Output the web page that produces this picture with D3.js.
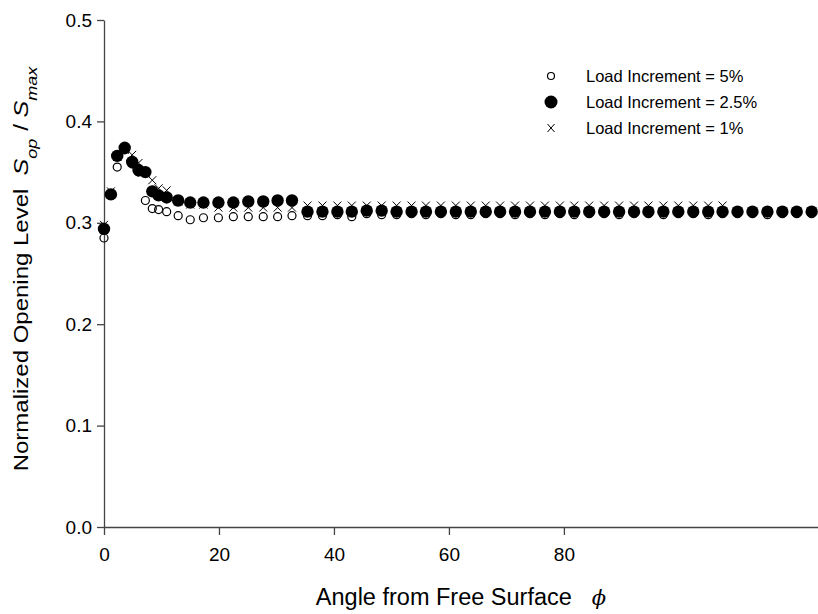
<!DOCTYPE html>
<html><head><meta charset="utf-8">
<script src="https://cdn.jsdelivr.net/npm/d3@7/dist/d3.min.js"></script>
<style>
html,body{margin:0;padding:0;background:#fff;}
text{font-family:Arial,"Liberation Sans",sans-serif;fill:#000;}
</style></head>
<body><svg id="c" width="818" height="614"></svg>
<script>
// Angle from free surface (degrees)
const angles = [0, 1.2, 2.3, 3.6, 4.9, 6.0, 7.2, 8.4, 9.5, 10.9, 12.9, 15.0, 17.3, 19.9, 22.5, 25.1, 27.7, 30.2, 32.7,
  35.4, 38.0, 40.6, 43.1, 45.7, 48.3, 50.9, 53.5, 56.0, 58.6, 61.2, 63.8, 66.4, 68.9, 71.5, 74.1, 76.7, 79.3, 81.8, 84.4,
  87.0, 89.6, 92.2, 94.7, 97.3, 99.9, 102.5, 105.1, 107.6, 110.2, 112.8, 115.4, 118.0, 120.5, 123.1];
// Load Increment = 5% (open circles)
const inc5 = [0.285, 0.327, 0.355, 0.372, 0.358, 0.350, 0.322, 0.314, 0.313, 0.311, 0.307, 0.303, 0.305, 0.305, 0.306, 0.306, 0.306, 0.306, 0.307,
  0.307, 0.307, 0.308, 0.306, 0.309, 0.308, 0.308, 0.309, 0.308, 0.309, 0.308, 0.308, 0.309, 0.309, 0.308, 0.309, 0.308, 0.309, 0.308, 0.309,
  0.309, 0.308, 0.309, 0.309, 0.308, 0.309, 0.309, 0.308, 0.309, 0.309, 0.309, 0.308, 0.309, 0.309, 0.309];
// Load Increment = 2.5% (filled circles)
const inc25 = [0.294, 0.328, 0.366, 0.374, 0.360, 0.352, 0.350, 0.331, 0.327, 0.325, 0.322, 0.320, 0.320, 0.320, 0.320, 0.321, 0.321, 0.322, 0.322,
  0.311, 0.311, 0.311, 0.311, 0.312, 0.312, 0.311, 0.311, 0.311, 0.311, 0.311, 0.311, 0.311, 0.311, 0.311, 0.311, 0.311, 0.311, 0.311, 0.311,
  0.311, 0.311, 0.311, 0.311, 0.311, 0.311, 0.311, 0.311, 0.311, 0.311, 0.311, 0.311, 0.311, 0.311, 0.311];
// Load Increment = 1% (x marks)
const inc1 = [0.298, 0.331, 0.365, 0.372, 0.367, 0.359, 0.350, 0.342, 0.334, 0.332, 0.321, 0.318, 0.318, 0.315, 0.315, 0.315, 0.315, 0.315, 0.315,
  0.317, 0.317, 0.317, 0.317, 0.317, 0.317, 0.317, 0.317, 0.317, 0.317, 0.317, 0.317, 0.317, 0.317, 0.317, 0.317, 0.317, 0.317, 0.317, 0.317,
  0.317, 0.317, 0.317, 0.317, 0.317, 0.317, 0.317, 0.317, 0.317, 0.311, 0.311, 0.311, 0.311, 0.311, 0.311];
const xTicks = [0, 20, 40, 60, 80];
const yTicks = [0.0, 0.1, 0.2, 0.3, 0.4, 0.5];
const legendLabels = ["Load Increment = 5%", "Load Increment = 2.5%", "Load Increment = 1%"];

const svg = d3.select("#c");
const x = d3.scaleLinear().domain([0, 124.2]).range([104, 818]);
const y = d3.scaleLinear().domain([0, 0.5]).range([527, 20]);
const axisColor = "#444";

const gx = svg.append("g").attr("transform", "translate(0,527)")
  .call(d3.axisBottom(x).tickValues(xTicks).tickFormat(d3.format("d")).tickSize(8).tickSizeOuter(0).tickPadding(13));
const gy = svg.append("g").attr("transform", "translate(104,0)")
  .call(d3.axisLeft(y).tickValues(yTicks).tickFormat(d3.format(".1f")).tickSize(7).tickSizeOuter(0).tickPadding(5));
[gx, gy].forEach(g => {
  g.select(".domain").attr("stroke", axisColor).attr("stroke-width", 1.3);
  g.selectAll(".tick line").attr("stroke", axisColor).attr("stroke-width", 1.3);
  g.selectAll(".tick text").style("font-size", "19px").style("font-family", "Arial, 'Liberation Sans', sans-serif").attr("fill", "#000");
});

// Data marks
const idx = d3.range(angles.length);
svg.append("g").selectAll("circle").data(idx).join("circle")
  .attr("cx", i => x(angles[i])).attr("cy", i => y(inc5[i])).attr("r", 4)
  .attr("fill", "none").attr("stroke", "#000").attr("stroke-width", 1.2);
const xs = 4;
const xg = svg.append("g").attr("stroke", "#000").attr("stroke-width", 1);
xg.selectAll("path").data(idx).join("path")
  .attr("d", i => { const cx = x(angles[i]), cy = y(inc1[i]); return `M${cx-xs},${cy-xs}L${cx+xs},${cy+xs}M${cx-xs},${cy+xs}L${cx+xs},${cy-xs}`; });
svg.append("g").selectAll("circle").data(idx).join("circle")
  .attr("cx", i => x(angles[i])).attr("cy", i => y(inc25[i])).attr("r", 6.2).attr("fill", "#000");

// Legend
const lg = svg.append("g");
const ly = [76, 102, 128];
lg.append("circle").attr("cx", 551).attr("cy", ly[0]).attr("r", 3.5).attr("fill", "none").attr("stroke", "#000").attr("stroke-width", 1.2);
lg.append("circle").attr("cx", 551).attr("cy", ly[1]).attr("r", 6.5).attr("fill", "#000");
lg.append("path").attr("stroke", "#000").attr("stroke-width", 1)
  .attr("d", `M${551-3.5},${ly[2]-4}L${551+3.5},${ly[2]+4}M${551-3.5},${ly[2]+4}L${551+3.5},${ly[2]-4}`);
lg.selectAll("text").data(legendLabels).join("text")
  .attr("x", 586).attr("y", (d, i) => ly[i]).attr("dy", "0.35em").style("font-size", "16.5px").text(d => d);

// Axis titles
const xt = svg.append("text").attr("x", 461).attr("y", 605).attr("text-anchor", "middle").style("font-size", "23.5px");
xt.append("tspan").text("Angle from Free Surface");
xt.append("tspan").attr("dx", "20").style("font-style", "italic").style("font-family", "'DejaVu Serif', serif").style("font-size", "21px").text("ϕ");

const yt = svg.append("text").attr("transform", "translate(28,269) rotate(-90) scale(1.2,1)").attr("text-anchor", "middle").style("font-size", "20px");
yt.append("tspan").text("Normalized Opening Level");
yt.append("tspan").attr("dx", "11").style("font-style", "italic").style("font-size", "21px").text("S");
yt.append("tspan").attr("baseline-shift", "sub").style("font-size", "15px").style("font-style", "italic").text("op");
yt.append("tspan").attr("dx", "1").text(" / ");
yt.append("tspan").style("font-style", "italic").style("font-size", "21px").text("S");
yt.append("tspan").attr("baseline-shift", "sub").style("font-size", "15px").style("font-style", "italic").text("max");
</script></body></html>
